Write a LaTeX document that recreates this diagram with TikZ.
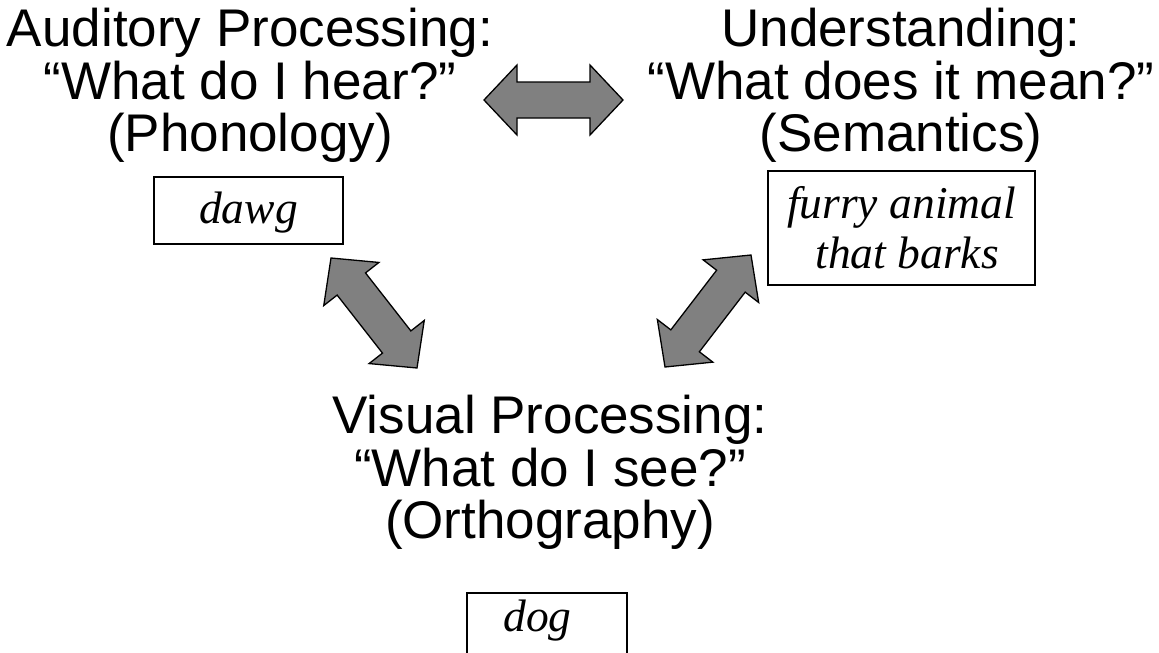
\documentclass[tikz,border=0pt]{standalone}
\usepackage{fontspec}
\setmainfont{Liberation Sans}
\newfontfamily\boxfont{Liberation Serif}
\usetikzlibrary{calc}
\definecolor{arrowgray}{HTML}{808080}
\tikzset{
  heading/.style={font=\fontsize{53}{52.5}\selectfont, align=center, inner sep=0pt, anchor=north},
  wordbox/.style={draw=black, line width=1.6pt, font=\boxfont\itshape\fontsize{45.5}{50}\selectfont, align=center, inner sep=0pt},
  blockarrow/.style={draw=black, line width=1.3pt, fill=arrowgray, line join=miter}
}
\newcommand\dblarrow[2]{%
  \coordinate (#1n) at ($(#1)!33pt!(#2)$);
  \coordinate (#2n) at ($(#2)!33pt!(#1)$);
  \path[blockarrow] (#1) -- ($(#1n)!35pt!90:(#2)$) -- ($(#1n)!18pt!90:(#2)$)
    -- ($(#2n)!18pt!-90:(#1)$) -- ($(#2n)!35pt!-90:(#1)$) -- (#2)
    -- ($(#2n)!35pt!90:(#1)$) -- ($(#2n)!18pt!90:(#1)$)
    -- ($(#1n)!18pt!-90:(#2)$) -- ($(#1n)!35pt!-90:(#2)$) -- cycle;
}
\begin{document}
\begin{tikzpicture}[x=1pt,y=-1pt]
\useasboundingbox (0,0) rectangle (1159,653);
\fill[white] (0,0) rectangle (1159,653);
% headings
\node[heading] (aud) at (250,8) {Auditory Processing:\\“What do I hear?”\\(Phonology)};
\node[heading] (und) at (901,8) {Understanding:\\“What does it mean?”\\(Semantics)};
\node[heading] (vis) at (550,395) {Visual Processing:\\“What do I see?”\\(Orthography)};
% word boxes
\node[wordbox, anchor=north, minimum width=189pt, text height=47pt, text depth=20pt] (dawg) at (248.5,176) {dawg};
\node[wordbox, minimum width=267pt, minimum height=114pt] (furry) at (901.5,228) {furry animal\\ \ that barks};
\node[wordbox, anchor=north, minimum width=160pt, text height=39pt, text depth=41pt] (dog) at (547,592) {\hspace*{-19pt}dog};
% block arrows
\coordinate (hA) at (484,100);
\coordinate (hB) at (623,100);
\coordinate (lA) at (331,258);
\coordinate (lB) at (417,368);
\coordinate (rA) at (751,255);
\coordinate (rB) at (665,367);
\dblarrow{hA}{hB}
\dblarrow{lA}{lB}
\dblarrow{rA}{rB}
\end{tikzpicture}
\end{document}
